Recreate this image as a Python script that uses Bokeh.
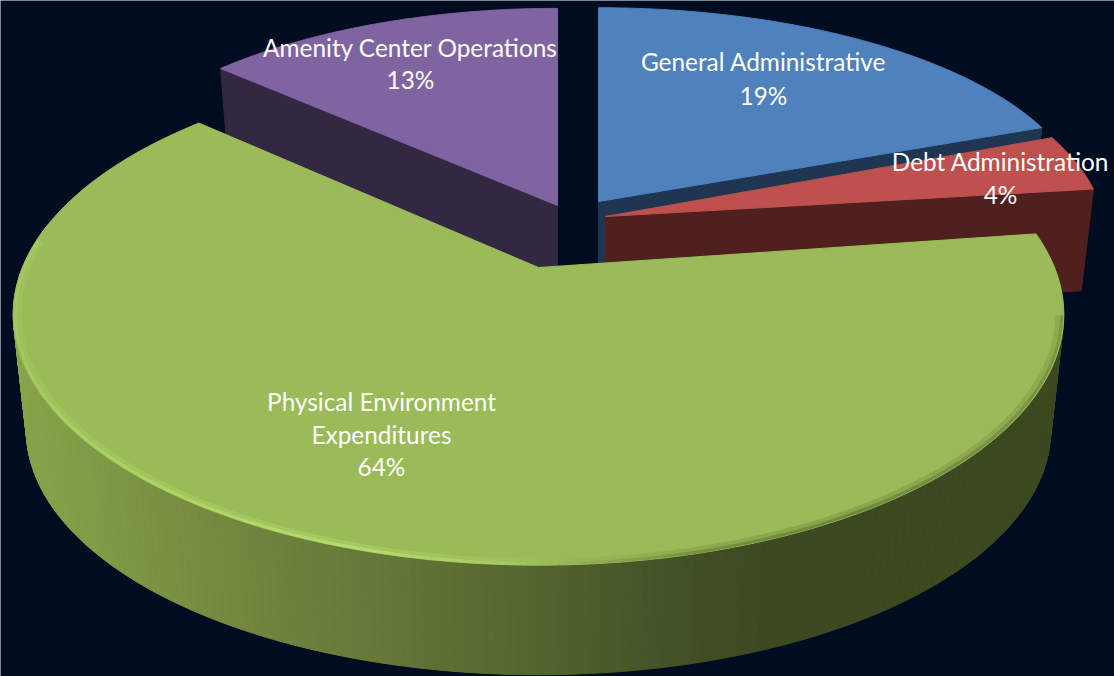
import numpy as np
from bokeh.plotting import figure
from bokeh.models import ColumnDataSource, Range1d
from bokeh.core.properties import value
from bokeh.embed import file_html
from bokeh.resources import INLINE

# --- chart data
categories = ["General Administrative", "Debt Administration", "Physical Environment Expenditures", "Amenity Center Operations"]
shares = [19, 4, 64, 13]

# --- styling / layout of the projected pie
BG = "#000d21"
top_colors = ["#4f81bd", "#be504d", "#9bbb59", "#8064a2"]
wall_colors = ["#1e3652", "#4f201e", "#3d4921", "#332841"]
origins = [(598, 201), (605, 216), (538, 267), (557, 205)]   # exploded apex of each slice
shape_a = [487.0, 498.0, 516.0, 478.0]
shape_b = [205.0, 222.0, 242.0, 207.0]
shape_k = [0.058, 0.10, 0.187, 0.05]
turn = [0.0, 0.0, np.radians(1.0), 0.0]
depths = [100.0, 101.0, 117.0, 100.0]
visible_face = ["end", "end", None, "start"]
BASE = 0.975
draw_order = [3, 0, 1, 2]
label_lines = [
    [("General Administrative", 763, 61)],
    [("Debt Administration", 1000, 161)],
    [("Physical Environment", 381, 401), ("Expenditures", 381, 434)],
    [("Amenity Center Operations", 410, 47)],
]
pct_pos = [(763, 95), (1000, 194), (381, 466), (410, 79)]

ends = np.cumsum(shares) / np.sum(shares) * 2 * np.pi
starts = np.r_[0, ends[:-1]]


def project(theta, i, base=False, inset=1.0):
    t = theta - turn[i]
    u, v = inset * np.sin(t), inset * np.cos(t)
    w = 1 + shape_k[i] * v
    sc = BASE if base else 1.0
    dz = depths[i] if base else 0.0
    return origins[i][0] + sc * shape_a[i] * u / w, origins[i][1] + dz - sc * shape_b[i] * v / w


def hex2rgb(h):
    return [int(h[i:i + 2], 16) for i in (1, 3, 5)]


def ramp(x, stops):
    xs = [a for a, _ in stops]
    cs = np.array([hex2rgb(c) for _, c in stops], float)
    return ["#%02x%02x%02x" % tuple(int(round(np.interp(t, xs, cs[:, i]))) for i in range(3)) for t in x]


wall_stops = [(12, "#88a44a"), (100, "#7f9945"), (200, "#768b40"), (300, "#6c803c"),
              (480, "#5a6c32"), (600, "#4b5c2b"), (700, "#414e25"), (770, "#3d4921")]
rim_stops = [(12, "#a3c65f"), (60, "#aacf63"), (200, "#b0d668"), (350, "#b6dc6e"), (500, "#a8cb62"),
             (600, "#8faa50"), (700, "#76903f"), (850, "#6f883c"), (1065, "#7c9544")]

p = figure(width=1114, height=676, output_backend="svg", toolbar_location=None,
           x_range=Range1d(0, 1114), y_range=Range1d(676, 0),
           min_border=0, background_fill_color=BG, border_fill_color=BG,
           outline_line_color=None)
p.axis.visible = False
p.grid.visible = False

for i in draw_order:
    org = origins[i]
    th = np.linspace(starts[i], ends[i], 240)
    tx, ty = project(th, i)
    if visible_face[i]:
        ang = ends[i] if visible_face[i] == "end" else starts[i]
        cx, cy = project(ang, i)
        bx, by = project(ang, i, base=True)
        p.patch([org[0], cx, bx, org[0]], [org[1], cy, by, org[1] + depths[i]],
                fill_color=wall_colors[i], line_color=wall_colors[i], line_width=1)
    else:
        bxs, bys = project(th, i, base=True)
        idx = np.where((th > np.radians(88)) & (th < np.radians(282)))[0]
        strips_x = [[tx[j], tx[j + 1], bxs[j + 1], bxs[j]] for j in idx[:-1]]
        strips_y = [[ty[j], ty[j + 1], bys[j + 1], bys[j]] for j in idx[:-1]]
        cols = ramp([(tx[j] + tx[j + 1]) / 2 for j in idx[:-1]], wall_stops)
        p.patches(source=ColumnDataSource(dict(x=strips_x, y=strips_y, c=cols)), xs="x", ys="y",
                  fill_color="c", line_color="c", line_width=1)
    p.patch(np.r_[org[0], tx], np.r_[org[1], ty], fill_color=top_colors[i], line_color=top_colors[i], line_width=1)
    if not visible_face[i]:
        rim_th = th[(th > np.radians(102)) & (th < np.radians(278))]
        for inset, lw, alpha in ((0.990, 6, 0.4), (0.996, 3, 1.0)):
            rx, ry = project(rim_th, i, inset=inset)
            segs_x = [[rx[j], rx[j + 1]] for j in range(len(rx) - 1)]
            segs_y = [[ry[j], ry[j + 1]] for j in range(len(rx) - 1)]
            rc = ramp([(rx[j] + rx[j + 1]) / 2 for j in range(len(rx) - 1)], rim_stops)
            p.multi_line(source=ColumnDataSource(dict(x=segs_x, y=segs_y, c=rc)), xs="x", ys="y",
                         line_color="c", line_width=lw, line_alpha=alpha)

# --- labels
lx, ly, lt = [], [], []
for i, lines in enumerate(label_lines):
    for txt, x, y in lines:
        lx.append(x); ly.append(y); lt.append(txt)
    lx.append(pct_pos[i][0]); ly.append(pct_pos[i][1]); lt.append(f"{shares[i]}%")
p.text(x=lx, y=ly, text=lt, text_color="#ffffff", text_font=value("Lato"), text_font_size="24.4px",
       text_align="center", text_baseline="middle")

open("out.html", "w").write(file_html(p, INLINE))
